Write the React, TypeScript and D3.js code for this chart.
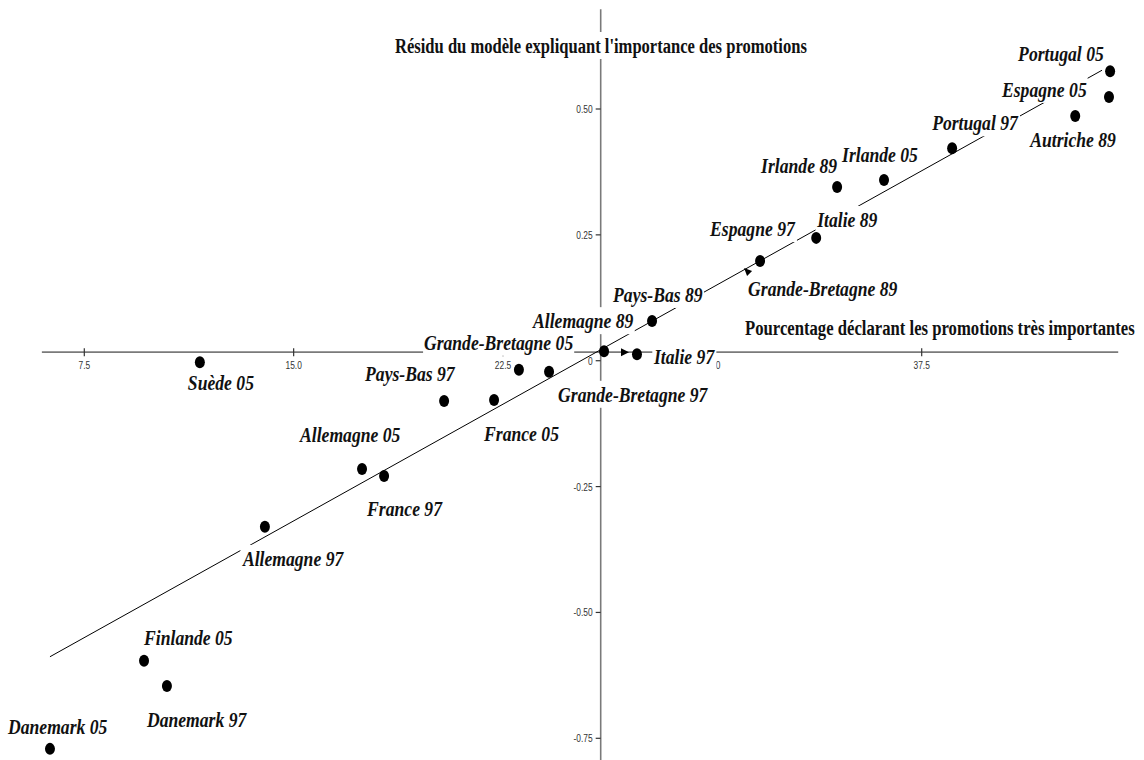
import React, { useEffect, useRef } from "react";
import * as d3 from "d3";

// ---- data ----
const pointNames = [
  "Portugal 05", "Espagne 05", "Autriche 89", "Portugal 97", "Irlande 05", "Irlande 89",
  "Italie 89", "Espagne 97", "Grande-Bretagne 89", "Pays-Bas 89", "Allemagne 89", "Italie 97",
  "Grande-Bretagne 05", "Grande-Bretagne 97", "Pays-Bas 97", "France 05", "Allemagne 05",
  "France 97", "Allemagne 97", "Suède 05", "Finlande 05", "Danemark 97", "Danemark 05",
];
const pctValues = [
  44.25, 44.21, 43.0, 38.59, 36.15, 34.47, 33.72, 31.71, 31.28, 27.84, 26.12, 27.3,
  23.07, 24.15, 20.39, 22.18, 17.45, 18.24, 13.97, 11.64, 9.64, 10.46, 6.27,
];
const residualValues = [
  0.575, 0.524, 0.486, 0.422, 0.359, 0.345, 0.244, 0.198, 0.176, 0.079, 0.019, 0.013,
  -0.018, -0.022, -0.08, -0.078, -0.215, -0.229, -0.33, -0.003, -0.596, -0.646, -0.771,
];
// points drawn as small arrow heads instead of dots
const arrowPoints = ["Grande-Bretagne 89"];
// extra arrow head on the horizontal axis
const axisArrowX = [26.87];

const fitX = [6.27, 43.96];
const fitY = [-0.588, 0.577];

const xTickValues = [7.5, 15.0, 22.5, 30.0, 37.5];
const xTickLabels = ["7.5", "15.0", "22.5", "30.0", "37.5"];
const yTickValues = [0.5, 0.25, 0, -0.25, -0.5, -0.75];
const yTickLabels = ["0.50", "0.25", "0", "-0.25", "-0.50", "-0.75"];

const xAxisExtent = [5.98, 44.54];
const yAxisExtent = [0.698, -0.793];
const xCross = 26.0; // where vertical axis sits
const yCross = 0.017; // where horizontal axis sits

const titleText = "Résidu du modèle expliquant l'importance des promotions";
const xAxisTitle = "Pourcentage déclarant les promotions très importantes";

// ---- layout (label offsets in px relative to the point) ----
const labelDx = [-92, -107, -45, -20, -42, -76, 1, -50, 0, -39, -71, 17, -95, 9, -79, -10, -62, -17, -22, -12, 0, -20, -42];
const labelDy = [-10, 0, 31, -18, -18, -14, -11, -25, 24, -19, -23, 10, -20, 30, -20, 41, -27, 40, 39, 28, -16, 41, -15];

const W = 1144;
const H = 760;
const SERIF = "'Liberation Serif', 'Times New Roman', serif";
const SANS = "'Liberation Sans', Arial, sans-serif";

export default function App() {
  const ref = useRef<SVGSVGElement | null>(null);

  useEffect(() => {
    document.body.style.margin = "0";
    const svg = d3.select(ref.current);
    svg.selectAll("*").remove();

    const x = d3.scaleLinear().domain([7.5, 37.5]).range([84.3, 921.7]);
    const y = d3.scaleLinear().domain([0.5, -0.75]).range([109, 738.3]);
    const x0 = x(xCross);
    const y0 = y(yCross);
    const axisColor = "#7a7a7a";

    svg.append("rect").attr("width", W).attr("height", H).attr("fill", "#fff");

    // axes
    svg.append("line")
      .attr("x1", x(xAxisExtent[0])).attr("x2", x(xAxisExtent[1]))
      .attr("y1", y0).attr("y2", y0)
      .attr("stroke", axisColor).attr("stroke-width", 1.6);
    svg.append("line")
      .attr("x1", x0).attr("x2", x0)
      .attr("y1", y(yAxisExtent[0])).attr("y2", y(yAxisExtent[1]))
      .attr("stroke", axisColor).attr("stroke-width", 1.6);

    // x ticks
    xTickValues.forEach((t, i) => {
      svg.append("line")
        .attr("x1", x(t)).attr("x2", x(t))
        .attr("y1", y0 - 4).attr("y2", y0 + 4)
        .attr("stroke", "#333").attr("stroke-width", 1.2);
      svg.append("text")
        .attr("transform", `translate(${x(t)},${y0 + 17}) scale(0.8,1)`)
        .attr("text-anchor", "middle")
        .attr("font-family", SANS).attr("font-size", 10.5).attr("fill", "#333")
        .text(xTickLabels[i]);
    });
    // y ticks
    yTickValues.forEach((t, i) => {
      svg.append("line")
        .attr("x1", x0 - 5).attr("x2", x0)
        .attr("y1", y(t)).attr("y2", y(t))
        .attr("stroke", "#333").attr("stroke-width", 1.2);
      svg.append("text")
        .attr("transform", `translate(${x0 - 8},${y(t) + 4}) scale(0.8,1)`)
        .attr("text-anchor", "end")
        .attr("font-family", SANS).attr("font-size", 10.5).attr("fill", "#333")
        .text(yTickLabels[i]);
    });

    // regression line
    const line = d3.line<number>().x((d, i) => x(fitX[i])).y((d) => y(d));
    svg.append("path")
      .attr("d", line(fitY))
      .attr("fill", "none").attr("stroke", "#000").attr("stroke-width", 1);

    // helper: text with white box; if a target width is given, squeeze horizontally to it
    const boxedText = (
      tx: number, ty: number, str: string, size: number, italic: boolean, sx: number, len?: number
    ) => {
      const g = svg.append("g");
      const rect = g.append("rect").attr("fill", "#fff");
      const t = g.append("text")
        .attr("font-family", SERIF).attr("font-size", size)
        .attr("font-weight", "bold")
        .attr("font-style", italic ? "italic" : "normal")
        .attr("fill", "#111")
        .text(str);
      const bb = (t.node() as SVGTextElement).getBBox();
      const s = len ? len / bb.width : sx;
      g.attr("transform", `translate(${tx},${ty}) scale(${s},1)`);
      rect.attr("x", bb.x - 1).attr("y", bb.y - 2).attr("width", bb.width + 2).attr("height", bb.height + 3);
    };

    boxedText(395, 53, titleText, 21, false, 1, 412);
    boxedText(745, 335, xAxisTitle, 21, false, 1, 390);

    pointNames.forEach((name, i) => {
      boxedText(
        x(pctValues[i]) + labelDx[i],
        y(residualValues[i]) + labelDy[i],
        name, 21, true, 0.84
      );
    });

    // points
    pointNames.forEach((name, i) => {
      const px = x(pctValues[i]);
      const py = y(residualValues[i]);
      if (arrowPoints.includes(name)) {
        svg.append("path")
          .attr("d", `M${px - 4},${py - 4} L${px + 4},${py - 1} L${px - 1},${py + 4} Z`)
          .attr("fill", "#000");
      } else {
        svg.append("ellipse")
          .attr("cx", px).attr("cy", py)
          .attr("rx", 5).attr("ry", 6)
          .attr("fill", "#000");
      }
    });

    axisArrowX.forEach((ax) => {
      const px = x(ax);
      svg.append("path")
        .attr("d", `M${px - 4},${y0 - 4} L${px + 4},${y0} L${px - 4},${y0 + 4} Z`)
        .attr("fill", "#000");
    });
  }, []);

  return <svg ref={ref} width={W} height={H} style={{ display: "block" }} />;
}
